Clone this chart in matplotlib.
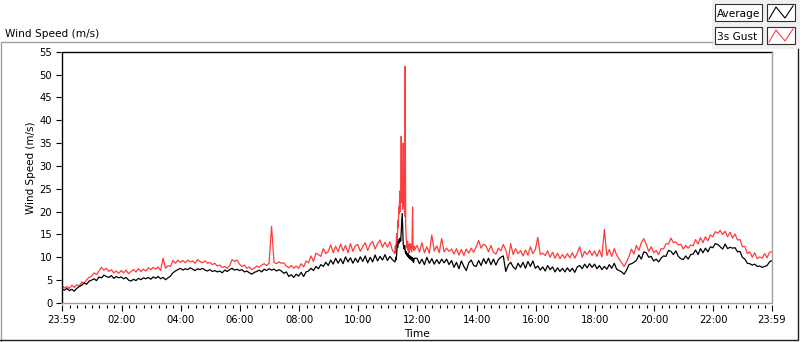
import numpy as np
import matplotlib
matplotlib.use('Agg')
import matplotlib.pyplot as plt
from matplotlib.lines import Line2D
from matplotlib.patches import Rectangle

# minutes after 23:59, one reading every 5 minutes
minutes = np.arange(0, 1441, 5)

avg_speed = [
    3.1, 2.8, 3.2, 2.7, 3.0, 2.6, 3.2, 3.6, 3.9, 4.4, 4.1, 4.8,
    5.0, 5.3, 4.9, 5.7, 5.5, 6.1, 5.8, 5.6, 6.0, 5.4, 5.8, 5.5,
    5.7, 5.3, 5.6, 5.0, 4.8, 5.2, 4.9, 5.4, 5.1, 5.5, 5.3, 5.6,
    5.2, 5.7, 5.4, 5.8, 5.3, 5.6, 5.1, 5.5, 5.9, 6.6, 7.0, 7.3,
    7.6, 7.2, 7.5, 7.3, 7.7, 7.4, 7.1, 7.5, 7.3, 7.6, 7.2, 7.0,
    7.3, 6.9, 7.1, 6.8, 7.0, 6.6, 7.2, 6.9, 7.3, 7.6, 7.2, 7.4,
    7.1, 7.3, 6.8, 7.0, 6.6, 6.3, 6.7, 6.9, 7.2, 6.8, 7.4, 7.1,
    7.5, 7.2, 7.4, 7.0, 7.3, 7.0, 6.5, 6.8, 5.8, 6.2, 5.6, 6.3,
    5.9, 6.7, 5.8, 6.8, 7.0, 7.6, 7.1, 8.0, 7.5, 8.4, 8.0, 8.9,
    8.2, 9.4, 8.5, 9.8, 8.7, 9.7, 8.6, 10.1, 9.0, 9.9, 8.7, 9.8,
    8.9, 10.1, 9.1, 10.3, 8.8, 10.0, 9.0, 10.5, 9.2, 10.2, 9.4, 10.6,
    9.3, 10.2, 9.5, 9.0, 13.0, 14.0, 19.0, 12.5, 11.0, 10.5, 10.2, 9.8,
    9.8, 8.6, 9.6, 8.4, 10.0, 8.7, 9.7, 8.5, 9.5, 8.6, 9.6, 8.8,
    9.6, 8.4, 9.3, 7.8, 8.9, 7.5, 9.2, 8.0, 7.1, 8.8, 9.4, 8.2,
    8.0, 9.3, 8.2, 9.7, 8.6, 9.8, 8.4, 9.6, 8.3, 9.5, 10.0, 10.3,
    6.9, 8.3, 8.9, 7.9, 7.4, 8.7, 7.8, 8.9, 7.6, 9.1, 8.0, 9.2,
    7.6, 8.1, 7.2, 7.9, 7.0, 8.2, 7.3, 7.9, 6.8, 7.7, 6.9, 7.6,
    6.8, 7.7, 6.9, 7.6, 6.7, 7.9, 8.2, 7.5, 8.5, 7.7, 8.6, 7.8,
    8.5, 7.5, 8.2, 7.3, 8.0, 7.4, 8.4, 7.6, 8.7, 7.4, 7.1, 6.8,
    6.3, 7.2, 8.4, 8.6, 8.9, 9.3, 10.5, 9.6, 11.2, 11.0, 10.0, 10.2,
    9.2, 9.6, 9.0, 9.8, 10.3, 10.2, 11.5, 11.3, 10.6, 11.4, 10.2, 9.7,
    9.5, 10.3, 9.6, 10.6, 10.7, 11.6, 10.6, 11.9, 11.0, 12.0, 11.2, 12.3,
    12.1, 13.0, 12.8, 12.3, 11.8, 12.9, 11.9, 12.2, 12.0, 12.1, 11.2, 11.3,
    10.0, 9.6, 8.7, 8.6, 8.3, 8.5, 8.0, 8.1, 7.8, 8.0, 8.2, 9.0,
    9.3,
]

gust_speed = [
    3.8, 3.3, 3.6, 3.2, 3.9, 3.4, 4.0, 3.7, 4.6, 4.3, 5.1, 5.6,
    5.9, 6.6, 6.2, 7.0, 7.8, 7.2, 7.6, 6.9, 7.3, 6.6, 7.0, 6.5,
    7.1, 6.6, 7.2, 6.4, 6.9, 7.3, 6.8, 7.5, 6.9, 7.4, 7.0, 7.7,
    7.3, 7.8, 7.4, 7.9, 7.1, 9.8, 7.6, 8.2, 8.0, 9.3, 8.7, 9.4,
    8.9, 9.3, 8.8, 9.4, 9.0, 9.2, 8.7, 9.5, 9.1, 8.8, 9.2, 8.7,
    8.9, 8.4, 8.7, 8.1, 8.3, 7.8, 8.0, 7.6, 8.2, 9.5, 9.1, 9.4,
    8.5, 8.0, 8.3, 7.6, 7.9, 7.3, 7.6, 8.1, 7.8, 8.3, 8.6, 8.2,
    8.7, 16.8, 8.9, 8.6, 9.0, 8.7, 8.8, 8.1, 7.7, 8.2, 7.6, 8.1,
    7.6, 8.6, 7.9, 9.2, 8.8, 10.3, 9.1, 10.9, 10.6, 10.2, 11.9, 10.8,
    11.3, 12.7, 11.0, 12.4, 11.2, 12.9, 11.4, 12.6, 11.0, 13.0, 11.3, 12.5,
    12.8, 11.3, 12.4, 13.2, 11.5, 12.9, 13.5, 11.8, 13.0, 13.8, 12.2, 13.3,
    12.2, 13.4, 11.6, 10.8, 12.8, 24.5, 26.8, 19.0, 12.0, 12.2, 14.0, 11.6,
    12.6, 11.2, 13.2, 11.0, 12.3, 10.9, 14.9, 11.4, 12.5, 11.0, 14.1, 11.2,
    12.0, 11.3, 11.8, 10.7, 11.9, 10.5, 11.7, 10.4, 11.8, 10.9, 12.0, 11.1,
    12.3, 13.7, 12.0, 12.9, 12.5, 11.2, 12.6, 11.1, 10.7, 12.0, 11.4, 12.8,
    11.6, 9.3, 13.0, 10.6, 11.9, 10.8, 11.5, 10.3, 11.6, 10.5, 12.3, 10.8,
    11.7, 14.4, 10.6, 10.9, 10.4, 11.4, 10.0, 11.1, 9.8, 10.9, 9.7, 10.6,
    9.8, 10.8, 9.9, 11.0, 9.8, 10.9, 12.3, 10.0, 11.3, 10.6, 11.5, 10.4,
    11.4, 10.2, 11.6, 10.1, 16.1, 10.4, 11.7, 10.2, 11.9, 10.5, 9.6, 8.8,
    8.0, 9.0, 10.2, 11.8, 10.7, 12.6, 11.5, 13.2, 14.1, 12.8, 11.3, 12.3,
    11.0, 11.5, 10.6, 11.9, 11.8, 13.0, 12.9, 14.2, 13.2, 13.4, 12.7, 12.9,
    11.8, 12.6, 12.0, 12.7, 12.5, 13.9, 12.9, 14.3, 13.2, 14.5, 13.6, 14.9,
    14.5, 15.6, 15.3, 15.9, 15.0, 15.7, 14.5, 15.5, 14.2, 15.1, 13.8, 13.9,
    12.3, 12.4, 10.8, 11.2, 10.0, 11.0, 9.7, 10.1, 9.8, 10.8, 9.9, 11.1,
    11.2,
]

# storm around 11:20-11:50, read at one-minute steps
storm_minutes = list(range(676, 715))
storm_avg = [
    9.2, 10.0, 9.5, 11.0, 12.8, 12.2, 13.5, 13.0, 14.0, 13.4,
    14.2, 13.6, 15.5, 17.0, 19.6, 16.0, 13.0, 12.4, 11.8, 12.6,
    11.5, 10.8, 11.3, 10.5, 10.9, 10.2, 10.8, 9.9, 10.4, 9.7,
    10.3, 9.6, 10.1, 9.4, 10.0, 9.2, 9.8, 8.9, 9.5,
]
storm_gust = [
    12.5, 11.0, 13.5, 15.2, 12.8, 18.0, 16.5, 21.0, 19.5, 24.5,
    20.0, 25.0, 36.5, 22.0, 26.8, 20.5, 35.0, 21.5, 24.0, 19.0,
    51.8, 17.0, 14.5, 13.0, 12.0, 13.5, 11.5, 12.8, 11.0, 12.2,
    13.0, 11.8, 12.5, 11.2, 14.0, 21.0, 12.0, 11.5, 12.4,
]

tick_minutes = [0, 121, 241, 361, 481, 601, 721, 841, 961, 1081, 1201, 1321, 1440]
tick_labels = ['23:59', '02:00', '04:00', '06:00', '08:00', '10:00', '12:00',
               '14:00', '16:00', '18:00', '20:00', '22:00', '23:59']

# merge the 1-minute storm readings into the 5-minute series
outside = (minutes < storm_minutes[0]) | (minutes > storm_minutes[-1])
t = np.concatenate([minutes[outside], storm_minutes])
avg = np.concatenate([np.array(avg_speed)[outside], storm_avg])
gust = np.concatenate([np.array(gust_speed)[outside], storm_gust])
order = np.argsort(t)
t, avg, gust = t[order], avg[order], gust[order]

plt.rcParams['font.family'] = ['DejaVu Sans']
W, H = 800, 342
fig = plt.figure(figsize=(W / 100, H / 100), dpi=100)
fig.patch.set_facecolor('white')


def fx(x):
    return x / W


def fy(y):
    return 1 - y / H


ax = fig.add_axes([fx(62), fy(303), fx(772) - fx(62), fy(51.7) - fy(303)])
ax.plot(t, gust, color='#ff3b3b', lw=0.9)
ax.plot(t, avg, color='black', lw=0.9)
ax.set_xlim(0, 1440)
ax.set_ylim(0, 55)

for s in ax.spines.values():
    s.set_visible(False)
ax.spines['left'].set_position(('outward', 1))
ax.spines['bottom'].set_position(('outward', 1.5))
# sunken plot border: dark top/left, grey bottom/right
ax.add_line(Line2D([0, 0, 1], [0, 1, 1], transform=ax.transAxes, color='black', lw=1, clip_on=False))
ax.add_line(Line2D([0, 1, 1], [0, 0, 1], transform=ax.transAxes, color='#a0a0a0', lw=1, clip_on=False))

ax.set_yticks(range(0, 56, 5))
ax.set_xticks(tick_minutes)
ax.set_xticklabels(tick_labels)
ax.set_xticks([m for m in range(16, 1440, 15) if m not in tick_minutes], minor=True)
ax.tick_params(axis='y', direction='out', length=3.6, width=0.8, pad=2.5, labelsize=7.2)
ax.tick_params(axis='x', which='major', direction='out', length=4.3, width=0.8, pad=2.5, labelsize=7.2)
ax.tick_params(axis='x', which='minor', direction='out', length=2.2, width=0.8)

fig.text(fx(31), fy(168), 'Wind Speed (m/s)', rotation=90, ha='center', va='center', fontsize=7.5)
fig.text(fx(417), fy(334), 'Time', ha='center', va='center', fontsize=7.6)
fig.text(fx(5), fy(37), 'Wind Speed (m/s)', ha='left', va='baseline', fontsize=7.6)

# outer frame
fig.add_artist(Line2D([fx(0.5), fx(0.5), fx(712)], [fy(342), fy(42), fy(42)], color='#a0a0a0', lw=1))
fig.add_artist(Line2D([fx(0), fx(798), fx(798)], [fy(340), fy(340), fy(49)], color='#202020', lw=1))

# legend panel
fig.add_artist(Rectangle((fx(712), fy(49)), fx(800) - fx(712), fy(0) - fy(49), color='#f0f0f0', lw=0))
for y0, name, col in [(4, 'Average', 'black'), (27, '3s Gust', '#ff3b3b')]:
    fig.add_artist(Rectangle((fx(715), fy(y0 + 17)), fx(47), fy(0) - fy(17),
                             facecolor='white', edgecolor='#303030', lw=0.8))
    fig.add_artist(Rectangle((fx(767), fy(y0 + 17)), fx(28), fy(0) - fy(17),
                             facecolor='white', edgecolor='#303030', lw=0.8))
    fig.text(fx(717), fy(y0 + 13), name, ha='left', va='baseline', fontsize=7.6)
    fig.add_artist(Line2D([fx(769), fx(776), fx(785), fx(793)],
                          [fy(y0 + 15), fy(y0 + 3), fy(y0 + 14), fy(y0 + 2)], color=col, lw=0.8))

fig.savefig('out.png', dpi=100)
